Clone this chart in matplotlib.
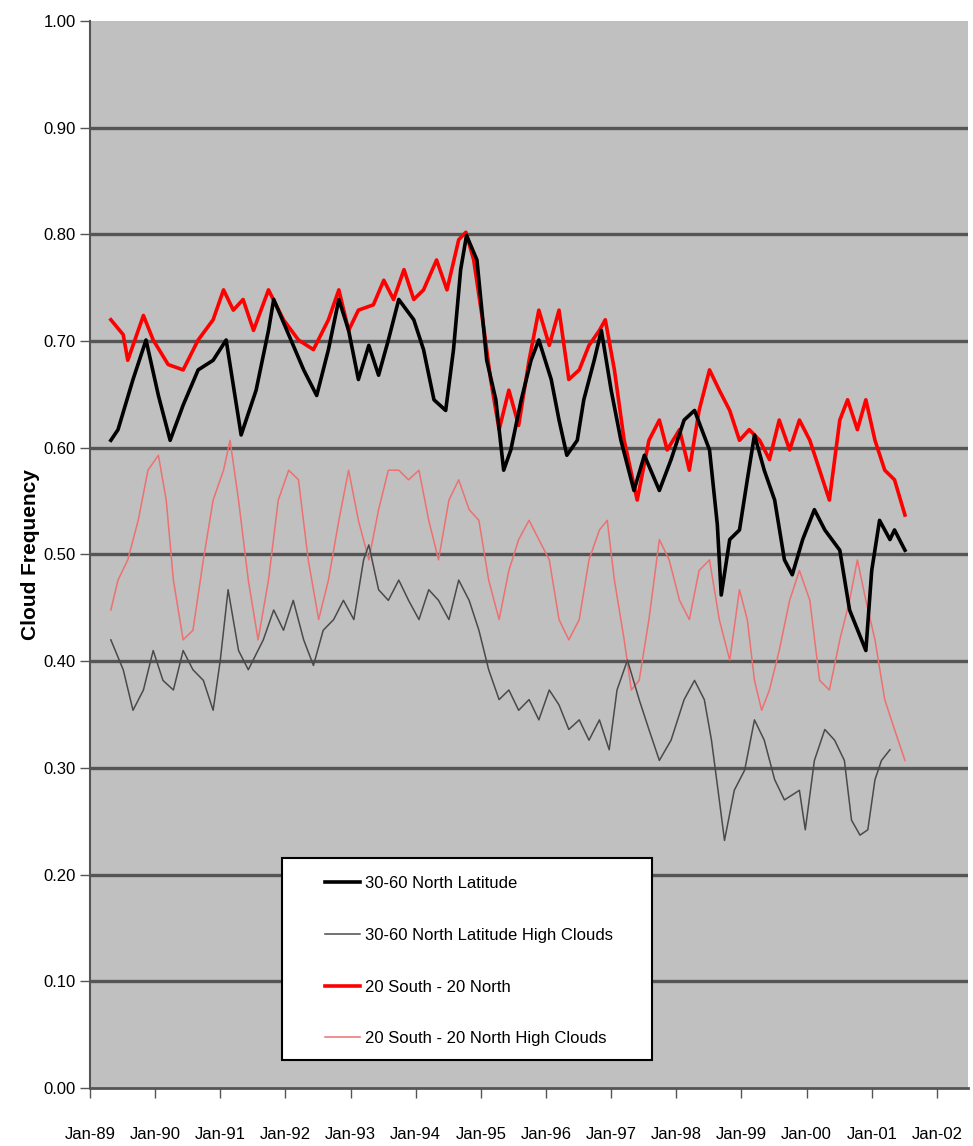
import matplotlib
matplotlib.use("Agg")
import matplotlib.pyplot as plt
from matplotlib.patches import Rectangle

plt.rcParams['font.family'] = ['Liberation Sans', 'DejaVu Sans']

# ---- data (decimal years, cloud frequency) ----
t_black = [1989.32, 1989.43, 1989.66, 1989.86, 1990.05, 1990.23, 1990.43, 1990.66, 1990.89, 1991.09,
           1991.32, 1991.55, 1991.74, 1991.82, 1992.05, 1992.28, 1992.48, 1992.66, 1992.82, 1992.97,
           1993.12, 1993.28, 1993.43, 1993.58, 1993.74, 1993.97, 1994.12, 1994.28, 1994.46, 1994.58,
           1994.69, 1994.78, 1994.94, 1995.09, 1995.23, 1995.35, 1995.46, 1995.62, 1995.77, 1995.89,
           1996.08, 1996.20, 1996.32, 1996.48, 1996.58, 1996.74, 1996.85, 1997.00, 1997.15, 1997.35,
           1997.51, 1997.74, 1997.92, 1998.12, 1998.28, 1998.51, 1998.63, 1998.69, 1998.82, 1998.97,
           1999.09, 1999.20, 1999.35, 1999.51, 1999.66, 1999.78, 1999.94, 2000.12, 2000.28, 2000.51,
           2000.66, 2000.91, 2001.00, 2001.12, 2001.28, 2001.35, 2001.51]
v_black = [0.607, 0.617, 0.664, 0.701, 0.649, 0.607, 0.640, 0.673, 0.682, 0.701,
           0.612, 0.654, 0.710, 0.739, 0.706, 0.673, 0.649, 0.692, 0.739, 0.710,
           0.664, 0.696, 0.668, 0.701, 0.739, 0.720, 0.692, 0.645, 0.635, 0.692,
           0.767, 0.799, 0.776, 0.682, 0.645, 0.579, 0.598, 0.645, 0.682, 0.701,
           0.664, 0.626, 0.593, 0.607, 0.645, 0.682, 0.710, 0.654, 0.607, 0.560,
           0.593, 0.560, 0.589, 0.626, 0.635, 0.598, 0.528, 0.462, 0.514, 0.523,
           0.570, 0.612, 0.579, 0.551, 0.495, 0.481, 0.514, 0.542, 0.523, 0.504,
           0.448, 0.410, 0.485, 0.532, 0.514, 0.523, 0.504]

t_black_hc = [1989.32, 1989.51, 1989.66, 1989.82, 1989.97, 1990.12, 1990.28, 1990.43, 1990.58, 1990.74,
              1990.89, 1991.00, 1991.12, 1991.28, 1991.43, 1991.66, 1991.82, 1991.97, 1992.12, 1992.28,
              1992.43, 1992.58, 1992.74, 1992.89, 1993.05, 1993.20, 1993.28, 1993.43, 1993.58, 1993.74,
              1993.89, 1994.05, 1994.20, 1994.35, 1994.51, 1994.66, 1994.82, 1994.97, 1995.12, 1995.28,
              1995.43, 1995.58, 1995.74, 1995.89, 1996.05, 1996.20, 1996.35, 1996.51, 1996.66, 1996.82,
              1996.97, 1997.09, 1997.25, 1997.43, 1997.58, 1997.74, 1997.92, 1998.12, 1998.28, 1998.43,
              1998.54, 1998.66, 1998.74, 1998.89, 1999.05, 1999.20, 1999.35, 1999.51, 1999.66, 1999.89,
              1999.98, 2000.12, 2000.28, 2000.43, 2000.58, 2000.69, 2000.82, 2000.94, 2001.05, 2001.15,
              2001.28]
v_black_hc = [0.420, 0.392, 0.354, 0.373, 0.410, 0.382, 0.373, 0.410, 0.392, 0.382,
              0.354, 0.401, 0.467, 0.410, 0.392, 0.420, 0.448, 0.429, 0.457, 0.420,
              0.396, 0.429, 0.439, 0.457, 0.439, 0.495, 0.509, 0.467, 0.457, 0.476,
              0.457, 0.439, 0.467, 0.457, 0.439, 0.476, 0.457, 0.429, 0.392, 0.364,
              0.373, 0.354, 0.364, 0.345, 0.373, 0.359, 0.336, 0.345, 0.326, 0.345,
              0.317, 0.373, 0.401, 0.364, 0.336, 0.307, 0.326, 0.364, 0.382, 0.364,
              0.326, 0.270, 0.232, 0.279, 0.298, 0.345, 0.326, 0.289, 0.270, 0.279,
              0.242, 0.307, 0.336, 0.326, 0.307, 0.251, 0.237, 0.242, 0.289, 0.307,
              0.317]

t_red = [1989.32, 1989.51, 1989.58, 1989.82, 1989.97, 1990.20, 1990.43, 1990.66, 1990.89, 1991.05,
         1991.20, 1991.35, 1991.51, 1991.74, 1991.97, 1992.20, 1992.43, 1992.66, 1992.82, 1992.97,
         1993.12, 1993.35, 1993.51, 1993.66, 1993.82, 1993.97, 1994.12, 1994.32, 1994.48, 1994.66,
         1994.77, 1994.89, 1995.05, 1995.15, 1995.28, 1995.43, 1995.58, 1995.74, 1995.89, 1996.05,
         1996.20, 1996.35, 1996.51, 1996.66, 1996.82, 1996.91, 1997.05, 1997.20, 1997.40, 1997.58,
         1997.74, 1997.86, 1998.05, 1998.20, 1998.35, 1998.51, 1998.66, 1998.82, 1998.97, 1999.12,
         1999.28, 1999.43, 1999.58, 1999.74, 1999.89, 2000.05, 2000.20, 2000.35, 2000.51, 2000.63,
         2000.78, 2000.91, 2001.05, 2001.20, 2001.35, 2001.51]
v_red = [0.720, 0.706, 0.682, 0.724, 0.701, 0.678, 0.673, 0.701, 0.720, 0.748,
         0.729, 0.739, 0.710, 0.748, 0.720, 0.701, 0.692, 0.720, 0.748, 0.710,
         0.729, 0.734, 0.757, 0.739, 0.767, 0.739, 0.748, 0.776, 0.748, 0.795,
         0.802, 0.776, 0.710, 0.664, 0.617, 0.654, 0.621, 0.682, 0.729, 0.696,
         0.729, 0.664, 0.673, 0.696, 0.710, 0.720, 0.673, 0.607, 0.551, 0.607,
         0.626, 0.598, 0.617, 0.579, 0.635, 0.673, 0.654, 0.635, 0.607, 0.617,
         0.607, 0.589, 0.626, 0.598, 0.626, 0.607, 0.579, 0.551, 0.626, 0.645,
         0.617, 0.645, 0.607, 0.579, 0.570, 0.537]

t_red_hc = [1989.32, 1989.43, 1989.58, 1989.74, 1989.89, 1990.05, 1990.17, 1990.28, 1990.43, 1990.58,
            1990.74, 1990.89, 1991.05, 1991.15, 1991.28, 1991.43, 1991.58, 1991.74, 1991.89, 1992.05,
            1992.20, 1992.35, 1992.51, 1992.66, 1992.82, 1992.97, 1993.12, 1993.28, 1993.43, 1993.58,
            1993.74, 1993.89, 1994.05, 1994.20, 1994.35, 1994.51, 1994.66, 1994.82, 1994.97, 1995.12,
            1995.28, 1995.43, 1995.58, 1995.74, 1995.89, 1996.05, 1996.20, 1996.35, 1996.51, 1996.66,
            1996.82, 1996.94, 1997.05, 1997.20, 1997.31, 1997.43, 1997.58, 1997.74, 1997.89, 1998.05,
            1998.20, 1998.35, 1998.51, 1998.66, 1998.82, 1998.97, 1999.09, 1999.20, 1999.31, 1999.43,
            1999.58, 1999.74, 1999.89, 2000.05, 2000.20, 2000.35, 2000.51, 2000.66, 2000.78, 2000.91,
            2001.05, 2001.20, 2001.35, 2001.51]
v_red_hc = [0.448, 0.476, 0.495, 0.532, 0.579, 0.593, 0.551, 0.476, 0.420, 0.429,
            0.495, 0.551, 0.579, 0.607, 0.551, 0.476, 0.420, 0.476, 0.551, 0.579,
            0.570, 0.495, 0.439, 0.476, 0.532, 0.579, 0.532, 0.495, 0.542, 0.579,
            0.579, 0.570, 0.579, 0.532, 0.495, 0.551, 0.570, 0.542, 0.532, 0.476,
            0.439, 0.485, 0.514, 0.532, 0.514, 0.495, 0.439, 0.420, 0.439, 0.495,
            0.523, 0.532, 0.476, 0.420, 0.373, 0.382, 0.439, 0.514, 0.495, 0.457,
            0.439, 0.485, 0.495, 0.439, 0.401, 0.467, 0.439, 0.382, 0.354, 0.373,
            0.410, 0.457, 0.485, 0.457, 0.382, 0.373, 0.420, 0.457, 0.495, 0.457,
            0.420, 0.364, 0.336, 0.307]

labels = ["30-60 North Latitude", "30-60 North Latitude High Clouds",
          "20 South - 20 North", "20 South - 20 North High Clouds"]
tick_years = list(range(1989, 2003))
tick_labels = ["Jan-%02d" % (y % 100) for y in tick_years]
y_ticks = [round(0.1 * i, 1) for i in range(11)]

fig = plt.figure(figsize=(9.73, 11.46), dpi=100)
ax = fig.add_axes([0.0925, 0.0506, 0.9025, 0.9311])
ax.set_facecolor('#C0C0C0')

for yv in y_ticks[1:-1]:
    ax.axhline(yv, color='#555555', lw=2.4, zorder=1)

ax.plot(t_black, v_black, color='black', lw=2.6, label=labels[0], zorder=4)
ax.plot(t_black_hc, v_black_hc, color='#4a4a4a', lw=1.1, label=labels[1], zorder=3)
ax.plot(t_red, v_red, color='#FF0000', lw=2.6, label=labels[2], zorder=3)
ax.plot(t_red_hc, v_red_hc, color='#EE7070', lw=1.1, label=labels[3], zorder=2)

ax.set_xlim(1989.0, 2002.48)
ax.set_ylim(0, 1.0)
ax.set_xticks(tick_years)
ax.set_xticklabels(tick_labels, fontsize=12)
ax.set_yticks(y_ticks)
ax.set_yticklabels(["%.2f" % v for v in y_ticks], fontsize=12)
ax.tick_params(axis='both', direction='out', length=7, width=1, color='#555555')
ax.tick_params(axis='x', pad=21)
ax.tick_params(axis='y', pad=3)
for s in ax.spines.values():
    s.set_visible(False)
ax.spines['left'].set_visible(True)
ax.spines['left'].set_color('#555555')
ax.spines['left'].set_linewidth(1.5)
ax.spines['bottom'].set_visible(True)
ax.spines['bottom'].set_color('#555555')
ax.spines['bottom'].set_linewidth(2)

ax.set_ylabel("Cloud Frequency", fontsize=15, fontweight='bold', labelpad=3)

# legend box drawn separately, entries placed inside it
box = Rectangle((0.219, 0.026), 0.421, 0.19, transform=ax.transAxes,
                facecolor='white', edgecolor='black', lw=1.5, zorder=5)
ax.add_patch(box)
leg = ax.legend(loc='upper left', bbox_to_anchor=(0.2677, 0.1985), fontsize=12,
                frameon=False, handlelength=2.1, labelspacing=2.2, borderpad=0,
                handletextpad=0.3, borderaxespad=0)
leg.set_zorder(6)

fig.savefig("out.png", dpi=100, facecolor='white')
